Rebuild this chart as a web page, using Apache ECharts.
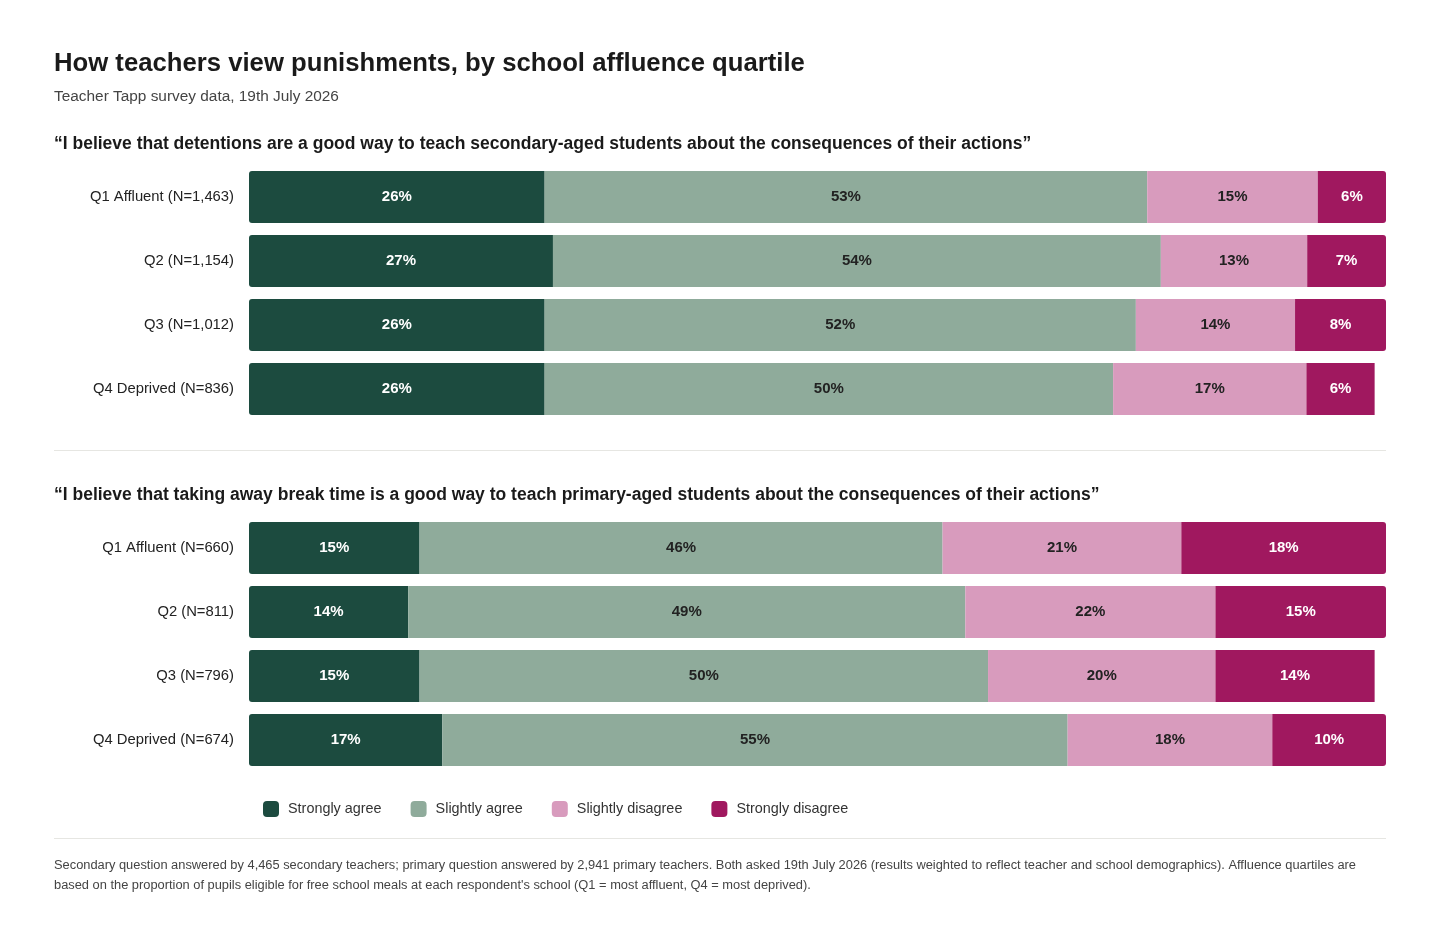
<!DOCTYPE html>
<html>
<head>
<meta charset="utf-8">
<title>How teachers view punishments</title>
<script src="https://cdn.jsdelivr.net/npm/echarts@6/dist/echarts.min.js"></script>
<style>
    html, body { margin: 0; padding: 0; background: #fff; }
    #main { width: 1440px; height: 936px; }
</style>
</head>
<body>
<div id="main"></div>
<script>
// answer options
const answers = ['Strongly agree', 'Slightly agree', 'Slightly disagree', 'Strongly disagree'];
const answerColors = ['#1c4b3f', '#8fab9b', '#d89bbd', '#a0185f'];
const labelColors = ['#ffffff', '#222222', '#222222', '#ffffff'];

// secondary question: detentions
const secondaryRows = ['Q1 Affluent (N=1,463)', 'Q2 (N=1,154)', 'Q3 (N=1,012)', 'Q4 Deprived (N=836)'];
const secondaryStronglyAgree = [26, 27, 26, 26];
const secondarySlightlyAgree = [53, 54, 52, 50];
const secondarySlightlyDisagree = [15, 13, 14, 17];
const secondaryStronglyDisagree = [6, 7, 8, 6];

// primary question: break time
const primaryRows = ['Q1 Affluent (N=660)', 'Q2 (N=811)', 'Q3 (N=796)', 'Q4 Deprived (N=674)'];
const primaryStronglyAgree = [15, 14, 15, 17];
const primarySlightlyAgree = [46, 49, 50, 55];
const primarySlightlyDisagree = [21, 22, 20, 18];
const primaryStronglyDisagree = [18, 15, 14, 10];

const FONT = '"Liberation Sans", Arial, sans-serif';

let myChart = echarts.init(document.getElementById('main'));

/**
 * build the four stacked series of one chart block
 * @param values   array of 4 arrays (one per answer)
 * @param gridIdx  grid index
 */
function buildSeries(values, gridIdx) {
    let totals = values[0].map((v, i) => values.reduce((s, arr) => s + arr[i], 0));
    return values.map((arr, k) => {
        return {
            name: answers[k],
            type: 'bar',
            stack: 'block' + gridIdx,
            xAxisIndex: gridIdx,
            yAxisIndex: gridIdx,
            barCategoryGap: '18.75%',
            animation: false,
            itemStyle: {color: answerColors[k]},
            label: {
                show: true,
                position: 'inside',
                color: labelColors[k],
                fontFamily: FONT,
                fontWeight: 'bold',
                fontSize: 15,
                formatter: p => p.data.shown + '%'
            },
            data: arr.map((v, i) => {
                // rows over 100 (rounding) are squeezed back to the full width
                let scale = totals[i] > 100 ? 100 / totals[i] : 1;
                let radius = [0, 0, 0, 0];
                if (k === 0) radius = [3, 0, 0, 3];
                if (k === values.length - 1 && totals[i] >= 100) radius = [0, 3, 3, 0];
                return {value: v * scale, shown: v, itemStyle: {borderRadius: radius}};
            })
        };
    });
}

function makeXAxis(gridIdx) {
    return {
        gridIndex: gridIdx,
        type: 'value',
        min: 0,
        max: 100,
        show: false
    };
}

function makeYAxis(gridIdx, rows) {
    return {
        gridIndex: gridIdx,
        type: 'category',
        inverse: true,
        data: rows,
        axisLine: {show: false},
        axisTick: {show: false},
        axisLabel: {
            margin: 15,
            color: '#222',
            fontFamily: FONT,
            fontSize: 14.8
        }
    };
}

function text(x, y, str, size, weight, color) {
    return {
        type: 'text',
        x: x,
        y: y,
        silent: true,
        style: {
            text: str,
            font: weight + ' ' + size + 'px ' + FONT,
            fill: color,
            textVerticalAlign: 'middle',
            verticalAlign: 'middle'
        }
    };
}

function hline(y) {
    return {
        type: 'line',
        silent: true,
        shape: {x1: 54, y1: y, x2: 1386, y2: y},
        style: {stroke: '#e6e6e2', lineWidth: 1}
    };
}

let option = {
    backgroundColor: '#fff',
    textStyle: {fontFamily: FONT},
    grid: [
        {left: 249, right: 54, top: 165, height: 256},
        {left: 249, right: 54, top: 516, height: 256}
    ],
    xAxis: [makeXAxis(0), makeXAxis(1)],
    yAxis: [makeYAxis(0, secondaryRows), makeYAxis(1, primaryRows)],
    legend: {
        data: answers,
        left: 263,
        top: 801,
        padding: 0,
        itemWidth: 16,
        itemHeight: 16,
        itemGap: 29,
        icon: 'roundRect',
        selectedMode: false,
        textStyle: {
            color: '#333',
            fontFamily: FONT,
            fontSize: 14.4,
            padding: [0, 0, 0, 4]
        }
    },
    graphic: [
        text(54, 64, 'How teachers view punishments, by school affluence quartile', 25.7, 'bold', '#1a1a1a'),
        text(54, 97, 'Teacher Tapp survey data, 19th July 2026', 15.4, 'normal', '#444'),
        text(54, 144, '\u201cI believe that detentions are a good way to teach secondary-aged students about the consequences of their actions\u201d', 17.5, 'bold', '#1a1a1a'),
        hline(450.5),
        text(54, 495, '\u201cI believe that taking away break time is a good way to teach primary-aged students about the consequences of their actions\u201d', 17.5, 'bold', '#1a1a1a'),
        hline(838.5),
        text(54, 865, 'Secondary question answered by 4,465 secondary teachers; primary question answered by 2,941 primary teachers. Both asked 19th July 2026 (results weighted to reflect teacher and school demographics). Affluence quartiles are', 12.85, 'normal', '#444'),
        text(54, 885, 'based on the proportion of pupils eligible for free school meals at each respondent\'s school (Q1 = most affluent, Q4 = most deprived).', 12.85, 'normal', '#444')
    ],
    series: [].concat(
        buildSeries([secondaryStronglyAgree, secondarySlightlyAgree, secondarySlightlyDisagree, secondaryStronglyDisagree], 0),
        buildSeries([primaryStronglyAgree, primarySlightlyAgree, primarySlightlyDisagree, primaryStronglyDisagree], 1)
    )
};

myChart.setOption(option);
</script>
</body>
</html>
